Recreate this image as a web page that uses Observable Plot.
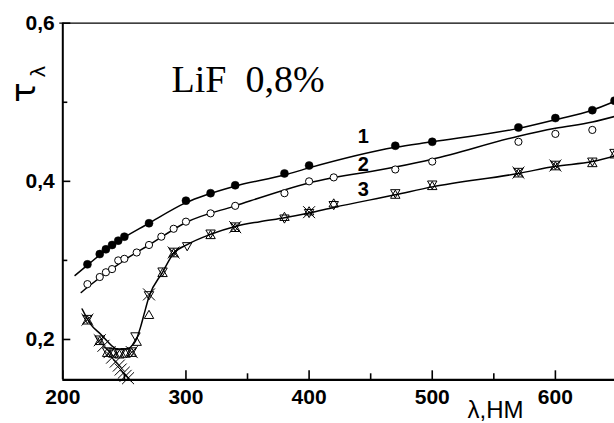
<!DOCTYPE html>
<html><head><meta charset="utf-8">
<script src="https://cdn.jsdelivr.net/npm/d3@7"></script>
<script src="https://cdn.jsdelivr.net/npm/@observablehq/plot@0.6"></script>
<style>body{margin:0;background:#fff} #chart svg{display:block}</style>
</head><body><div id="chart"></div>
<script>
// ticks
const xMajor = [200, 300, 400, 500, 600];
const xMinor = [250, 350, 450, 550, 650];
const yMajor = [0.2, 0.4, 0.6];
const yMinor = [0.3, 0.5];
const xLabels = ["200", "300", "400", "500", "600"];
const yLabels = ["0,2", "0,4", "0,6"];

// series 1 (filled circles)
const s1X = [220, 230, 235, 240, 245, 250, 270, 300, 320, 340, 380, 400, 470, 500, 570, 600, 630, 648];
const s1Y = [0.295, 0.308, 0.314, 0.3195, 0.325, 0.330, 0.347, 0.3756, 0.385, 0.395, 0.410, 0.420, 0.445, 0.450, 0.468, 0.480, 0.490, 0.502];
// series 2 (open circles)
const s2X = [220, 230, 235, 240, 245, 250, 260, 270, 280, 290, 300, 320, 340, 380, 400, 420, 470, 500, 570, 600, 630];
const s2Y = [0.270, 0.279, 0.285, 0.289, 0.300, 0.302, 0.310, 0.3195, 0.330, 0.340, 0.349, 0.3595, 0.369, 0.385, 0.400, 0.405, 0.415, 0.425, 0.450, 0.460, 0.465];
// series 3 (up triangles, down triangles, crosses)
const s3UpX = [220, 230, 236, 241, 246, 251, 256, 260, 270, 281, 290, 320, 340, 380, 400, 420, 470, 500, 570, 600, 630, 648];
const s3UpY = [0.223, 0.197, 0.182, 0.181, 0.180, 0.181, 0.182, 0.196, 0.230, 0.283, 0.308, 0.331, 0.340, 0.354, 0.361, 0.371, 0.382, 0.393, 0.409, 0.418, 0.422, 0.433];
const s3DownX = [220, 230, 236, 241, 246, 251, 256, 259, 270, 281, 290, 301, 320, 340, 380, 400, 420, 470, 500, 570, 600, 630, 648];
const s3DownY = [0.227, 0.201, 0.186, 0.185, 0.184, 0.185, 0.186, 0.205, 0.257, 0.287, 0.312, 0.319, 0.335, 0.344, 0.354, 0.361, 0.371, 0.386, 0.397, 0.413, 0.422, 0.426, 0.437];
const s3CrossX = [220, 230, 233, 238, 240, 243, 245.5, 247, 249.5, 251, 253, 256, 270, 290, 340, 400, 570, 600];
const s3CrossY = [0.225, 0.199, 0.192, 0.184, 0.177, 0.172, 0.167, 0.162, 0.158, 0.154, 0.151, 0.184, 0.257, 0.310, 0.342, 0.361, 0.411, 0.420];

// fitted curves
const fit1X = [210, 220, 240, 270, 300, 340, 380, 400, 470, 500, 570, 600, 630, 648];
const fit1Y = [0.281, 0.294, 0.319, 0.347, 0.373, 0.394, 0.408, 0.417, 0.443, 0.450, 0.467, 0.478, 0.490, 0.501];
const fit2X = [215, 220, 250, 270, 300, 340, 400, 470, 500, 570, 600, 630, 648];
const fit2Y = [0.2595, 0.266, 0.3005, 0.3195, 0.348, 0.369, 0.398, 0.418, 0.428, 0.457, 0.467, 0.475, 0.482];
const fit3X = [215.7, 222.5, 230.6, 236, 241.4, 244, 253, 256, 259, 263, 266, 270, 281, 290, 301, 320, 340, 360, 380, 400, 420, 470, 500, 570, 600, 630, 648];
const fit3Y = [0.2385, 0.2195, 0.2068, 0.198, 0.190, 0.188, 0.188, 0.192, 0.198, 0.215, 0.232, 0.254, 0.285, 0.309, 0.320, 0.333, 0.343, 0.349, 0.354, 0.360, 0.367, 0.383, 0.393, 0.410, 0.419, 0.425, 0.432];

const curveLabels = ["1", "2", "3"];
const curveLabelX = [444, 444, 444];
const curveLabelY = [0.4566, 0.4211, 0.3893];

const title = "LiF  0,8%";
const xTitle = "λ,НМ";

const pts = (X, Y) => X.map((x, i) => ({x, y: Y[i]}));

const W = 614, H = 423, mL = 62.3, mR = 0, mT = 22.7, mB = 43.7;
const plotW = W - mL - mR, plotH = H - mT - mB;
const yMin = 0.149;
const sans = "Liberation Sans, Arial, sans-serif";

const chart = Plot.plot({
  width: W, height: H,
  marginLeft: mL, marginRight: mR, marginTop: mT, marginBottom: mB,
  x: {domain: [200, 648], axis: null},
  y: {domain: [yMin, 0.6], axis: null},
  style: {fontFamily: sans, background: "white", color: "black"},
  marks: [
    // frame lines
    Plot.ruleY([0.6], {strokeWidth: 1.3, insetLeft: -3}),
    Plot.ruleX([200], {strokeWidth: 2}),
    Plot.ruleY([yMin], {strokeWidth: 2.2}),
    // inward ticks
    Plot.ruleX(xMajor, {x: d => d, insetTop: plotH - 9, strokeWidth: 1.6}),
    Plot.ruleX(xMinor, {x: d => d, insetTop: plotH - 6, strokeWidth: 1.6}),
    Plot.ruleY(yMajor, {y: d => d, insetRight: plotW - 8, strokeWidth: 1.6}),
    Plot.ruleY(yMinor, {y: d => d, insetRight: plotW - 5, strokeWidth: 1.6}),
    // tick labels
    Plot.text(xMajor, {x: d => d, text: (d, i) => xLabels[i], frameAnchor: "bottom", dy: 9, lineAnchor: "top", fontSize: 21, fontWeight: "bold", fontFamily: sans}),
    Plot.text(yMajor, {y: d => d, text: (d, i) => yLabels[i], frameAnchor: "left", dx: -8, textAnchor: "end", lineAnchor: "middle", fontSize: 21, fontWeight: "bold", fontFamily: sans}),
    // curves
    Plot.line(pts(fit1X, fit1Y), {x: "x", y: "y", curve: "monotone-x", strokeWidth: 1.5}),
    Plot.line(pts(fit2X, fit2Y), {x: "x", y: "y", curve: "monotone-x", strokeWidth: 1.5}),
    Plot.line(pts(fit3X, fit3Y), {x: "x", y: "y", curve: "monotone-x", strokeWidth: 1.5}),
    // markers
    Plot.dot(pts(s1X, s1Y), {x: "x", y: "y", r: 4, fill: "black", stroke: "black", strokeWidth: 0.5}),
    Plot.dot(pts(s2X, s2Y), {x: "x", y: "y", r: 3.6, fill: "white", stroke: "black", strokeWidth: 1}),
    Plot.dot(pts(s3UpX, s3UpY), {x: "x", y: "y", symbol: "triangle", r: 3.5, fill: "white", fillOpacity: 0, stroke: "black", strokeWidth: 1}),
    Plot.dot(pts(s3DownX, s3DownY), {x: "x", y: "y", symbol: "triangle", rotate: 180, r: 3.5, fill: "white", fillOpacity: 0, stroke: "black", strokeWidth: 1}),
    Plot.dot(pts(s3CrossX, s3CrossY), {x: "x", y: "y", symbol: "times", r: 5.5, stroke: "black", strokeWidth: 1}),
    // curve labels
    Plot.text(curveLabels, {x: (d, i) => curveLabelX[i], y: (d, i) => curveLabelY[i], text: d => d, fontSize: 20, fontWeight: "bold", fontFamily: sans, lineAnchor: "middle"}),
    // title
    Plot.text([title], {x: 288.3, y: 0.5287, text: d => d, textAnchor: "start", lineAnchor: "middle", fontSize: 38, fontFamily: "Liberation Serif, Times New Roman, serif"}),
    // x title
    Plot.text([xTitle], {x: 528.6, y: 0.1009, text: d => d, textAnchor: "start", lineAnchor: "bottom", fontSize: 24, fontFamily: sans}),
    // y title tau_lambda (rotated)
    Plot.text(["τ"], {x: 168.9, y: 0.5123, text: d => d, rotate: -90, textAnchor: "middle", lineAnchor: "middle", fontSize: 34, fontFamily: "DejaVu Sans, sans-serif"}),
    Plot.text(["λ"], {x: 180, y: 0.5389, text: d => d, rotate: -90, textAnchor: "middle", lineAnchor: "middle", fontSize: 20, fontFamily: "DejaVu Sans, sans-serif"})
  ]
});
document.getElementById("chart").appendChild(chart);
</script>
</body></html>
